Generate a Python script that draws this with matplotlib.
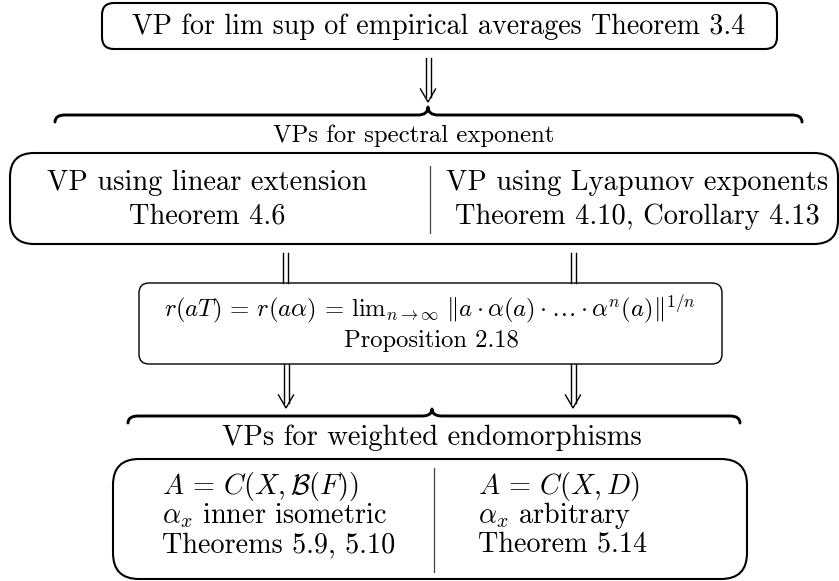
import matplotlib
matplotlib.use("Agg")
import matplotlib.pyplot as plt
from matplotlib.patches import FancyBboxPatch, PathPatch
from matplotlib.path import Path

plt.rcParams['mathtext.fontset'] = 'cm'
plt.rcParams['font.family'] = 'cmr10'
plt.rcParams['axes.formatter.use_mathtext'] = True

# Diagram texts
top_text = "VP for lim sup of empirical averages Theorem 3.4"
spectral_title = "VPs for spectral exponent"
spectral_left = ["VP using linear extension", "Theorem 4.6"]
spectral_right = ["VP using Lyapunov exponents", "Theorem 4.10, Corollary 4.13"]
formula = (r"$r(aT)\,=\,r(a\alpha)\,=\,\mathrm{lim}_{n\to\infty}\ "
           r"\Vert a\cdot\alpha(a)\cdot\ldots\cdot\alpha^n(a)\Vert^{1/n}$")
formula_ref = "Proposition 2.18"
weighted_title = "VPs for weighted endomorphisms"
weighted_left = [r"$A\,=\,C(X, \mathcal{B}(F))$", r"$\alpha_x$ inner isometric",
                 "Theorems 5.9, 5.10"]
weighted_right = [r"$A\,=\,C(X, D)$", r"$\alpha_x$ arbitrary", "Theorem 5.14"]


def rbox(ax, x0, y0, x1, y1, r, lw):
    ax.add_patch(FancyBboxPatch((x0, y0), x1 - x0, y1 - y0,
                                boxstyle=f"round,pad=0,rounding_size={r}",
                                fc="none", ec="black", lw=lw))


def brace(ax, x0, x1, xc, y_end, y_h, y_tip, r=10, lw=2.1):
    verts = [(x0, y_end), (x0, y_h), (x0 + r, y_h),
             (xc - r, y_h), (xc, y_h), (xc, y_tip),
             (xc, y_h), (xc + r, y_h),
             (x1 - r, y_h), (x1, y_h), (x1, y_end)]
    codes = [Path.MOVETO, Path.CURVE3, Path.CURVE3,
             Path.LINETO, Path.CURVE3, Path.CURVE3,
             Path.CURVE3, Path.CURVE3,
             Path.LINETO, Path.CURVE3, Path.CURVE3]
    ax.add_patch(PathPatch(Path(verts, codes), fc="none", ec="black",
                           lw=lw, capstyle="round", joinstyle="round"))


def implies(ax, x, y0, y1, head=True, gap=2.5):
    y_end = y1 - 5 if head else y1
    for dx in (-gap, gap):
        ax.plot([x + dx, x + dx], [y0, y_end], color="black", lw=1.0)
    if head:
        ax.plot([x - 7.5, x, x + 7.5], [y1 - 13, y1, y1 - 13],
                color="black", lw=1.0, solid_joinstyle="miter")


fig = plt.figure(figsize=(8.39, 5.81), dpi=100)
ax = fig.add_axes([0, 0, 1, 1])
ax.set_xlim(0, 839)
ax.set_ylim(581, 0)
ax.axis("off")

# top box
rbox(ax, 102, 3, 777, 49, 12, 1.5)
ax.text(439, 34, top_text, ha="center", va="baseline", fontsize=20.2)
implies(ax, 428, 58, 102)

# spectral exponent group
brace(ax, 55, 802, 428, 122, 115, 107)
ax.text(414, 142, spectral_title, ha="center", va="baseline", fontsize=17.8)
rbox(ax, 10, 153, 838, 244, 24, 1.5)
ax.plot([430, 430], [166, 233], color="#444444", lw=0.9)
for i, (lt, rt) in enumerate(zip(spectral_left, spectral_right)):
    ax.text(207, 190 + 34 * i, lt, ha="center", va="baseline", fontsize=20.5)
    ax.text(637, 190 + 34 * i, rt, ha="center", va="baseline", fontsize=20.5)

implies(ax, 285, 253, 283, head=False)
implies(ax, 573, 253, 283, head=False)

# formula box
rbox(ax, 139, 283, 722, 364, 10, 1.0)
ax.text(430, 316, formula, ha="center", va="baseline", fontsize=17.8)
ax.text(431, 347, formula_ref, ha="center", va="baseline", fontsize=17.7)
implies(ax, 286, 364, 408)
implies(ax, 573, 364, 408)

# weighted endomorphisms group
brace(ax, 128, 740, 432, 423, 416, 409)
ax.text(432, 445, weighted_title, ha="center", va="baseline", fontsize=20.6)
rbox(ax, 113, 459, 747, 579, 26, 1.5)
ax.plot([434, 434], [468, 572], color="#444444", lw=0.9)
for i, (lt, rt) in enumerate(zip(weighted_left, weighted_right)):
    ax.text(162, 494 + 29 * i, lt, ha="left", va="baseline", fontsize=20.3)
    ax.text(478, 494 + 29 * i, rt, ha="left", va="baseline", fontsize=20.3)

fig.savefig("out.png", dpi=100)
